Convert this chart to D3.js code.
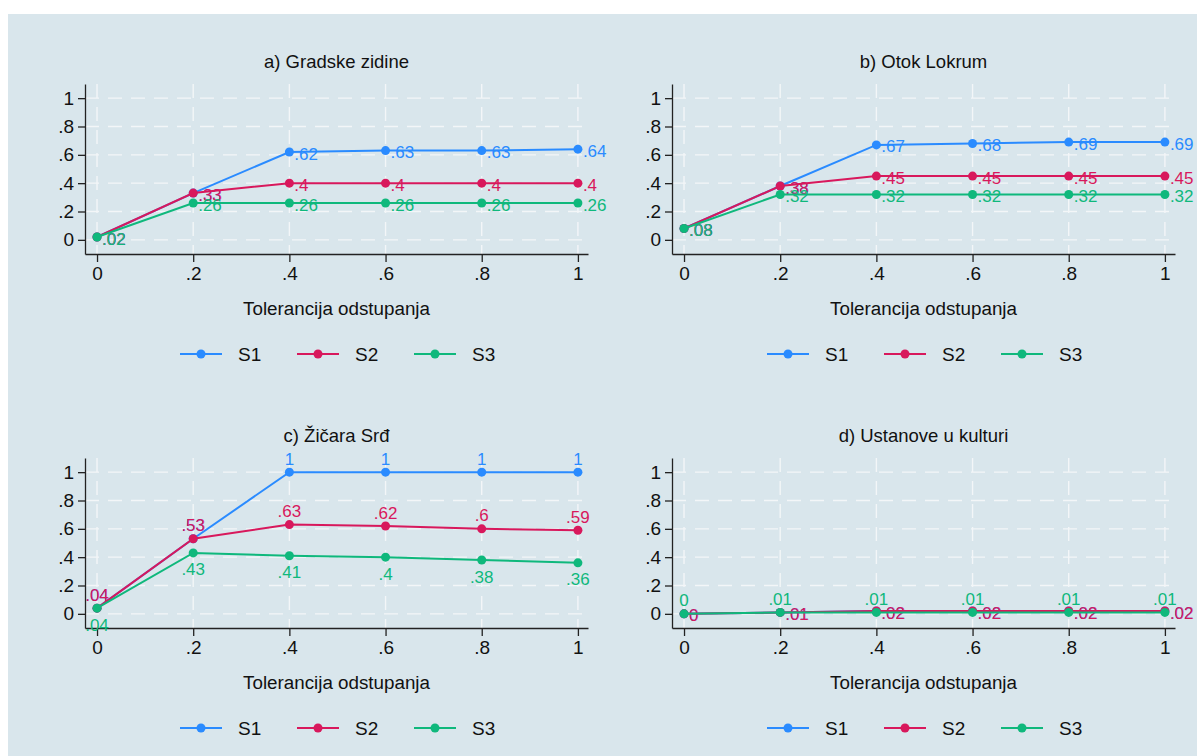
<!DOCTYPE html>
<html>
<head>
<meta charset="utf-8">
<script src="https://cdn.jsdelivr.net/npm/d3@7"></script>
<style>
  body { margin: 0; background: #ffffff; }
  text { font-family: "Liberation Sans", Arial, Helvetica, sans-serif; }
</style>
</head>
<body>
<div id="chart"></div>
<script>
'use strict';

// data
const tolerance = [0, .2, .4, .6, .8, 1];
const yTicks = [0, .2, .4, .6, .8, 1];
const seriesNames = ["S1", "S2", "S3"];
const panelTitles = ["a) Gradske zidine", "b) Otok Lokrum", "c) Žičara Srđ", "d) Ustanove u kulturi"];
const xTitle = "Tolerancija odstupanja";

const zidineS1 = [.02, .33, .62, .63, .63, .64];
const zidineS2 = [.02, .33, .4, .4, .4, .4];
const zidineS3 = [.02, .26, .26, .26, .26, .26];

const lokrumS1 = [.08, .38, .67, .68, .69, .69];
const lokrumS2 = [.08, .38, .45, .45, .45, .45];
const lokrumS3 = [.08, .32, .32, .32, .32, .32];

const zicaraS1 = [.04, .53, 1, 1, 1, 1];
const zicaraS2 = [.04, .53, .63, .62, .6, .59];
const zicaraS3 = [.04, .43, .41, .4, .38, .36];

const ustanoveS1 = [0, .01, .02, .02, .02, .02];
const ustanoveS2 = [0, .01, .02, .02, .02, .02];
const ustanoveS3 = [0, .01, .01, .01, .01, .01];

const colors = ["#2a8bff", "#d8185c", "#0fb87c"];

const msm = {
  width: 1197,
  height: 756,
  plotWidth: 503,
  plotHeight: 170,
  colStep: 587,
  rowStep: 374
};

// label positions: 3 = right, 12 = above, 6 = below
const panels = [
  { title: panelTitles[0], series: [zidineS1, zidineS2, zidineS3], pos: [3, 3, 3] },
  { title: panelTitles[1], series: [lokrumS1, lokrumS2, lokrumS3], pos: [3, 3, 3] },
  { title: panelTitles[2], series: [zicaraS1, zicaraS2, zicaraS3], pos: [12, 12, 6] },
  { title: panelTitles[3], series: [ustanoveS1, ustanoveS2, ustanoveS3], pos: [3, 3, 12] }
];

function fmt(v) {
  if (v === 0) return "0";
  if (v === 1) return "1";
  return String(+v.toFixed(2)).replace(/^0\./, ".");
}

let svg = d3.select('#chart')
  .append('svg')
  .attr('width', msm.width)
  .attr('height', msm.height);

svg.append('rect')
  .attr('x', 8)
  .attr('y', 14)
  .attr('width', msm.width - 8)
  .attr('height', msm.height - 14)
  .attr('fill', '#d9e6ec');

panels.forEach((p, i) => {
  let left = 85 + (i % 2) * msm.colStep;
  let top = 84 + Math.floor(i / 2) * msm.rowStep;
  drawPanel(p, left, top);
});

function drawPanel(p, left, top) {
  let g = svg.append('g');
  let right = left + msm.plotWidth;
  let bottom = top + msm.plotHeight;

  let xScale = d3.scaleLinear()
    .domain([-0.025, 1.021])
    .range([left, right]);
  let yScale = d3.scaleLinear()
    .domain([-0.1, 1.1])
    .range([bottom, top]);

  // grid
  g.selectAll('.hgrid')
    .data(yTicks)
    .enter()
    .append('line')
      .attr('x1', left)
      .attr('x2', right)
      .attr('y1', (d) => yScale(d))
      .attr('y2', (d) => yScale(d))
      .attr('stroke', '#f3f6f8')
      .attr('stroke-width', 1.4)
      .attr('stroke-dasharray', '14,9');
  g.selectAll('.vgrid')
    .data(tolerance)
    .enter()
    .append('line')
      .attr('x1', (d) => xScale(d))
      .attr('x2', (d) => xScale(d))
      .attr('y1', top)
      .attr('y2', bottom)
      .attr('stroke', '#f3f6f8')
      .attr('stroke-width', 1.4)
      .attr('stroke-dasharray', '14,9');

  // axes
  let yAxis = d3.axisLeft(yScale)
    .tickValues(yTicks)
    .tickFormat(fmt)
    .tickSize(7)
    .tickSizeOuter(0)
    .tickPadding(4);
  let ya = g.append('g')
    .attr('transform', 'translate(' + left + ',0)')
    .call(yAxis);

  let xAxis = d3.axisBottom(xScale)
    .tickValues(tolerance)
    .tickFormat(fmt)
    .tickSize(8)
    .tickSizeOuter(0)
    .tickPadding(5);
  let xa = g.append('g')
    .attr('transform', 'translate(0,' + bottom + ')')
    .call(xAxis);

  [ya, xa].forEach((a) => {
    a.selectAll('path, line').attr('stroke', '#222').attr('stroke-width', 1.3);
    a.selectAll('text').attr('fill', '#111').style('font-size', '19px');
  });

  // title and axis title
  g.append('text')
    .attr('x', (left + right) / 2)
    .attr('y', top - 16)
    .attr('text-anchor', 'middle')
    .attr('fill', '#111')
    .style('font-size', '18.5px')
    .text(p.title);

  g.append('text')
    .attr('x', (left + right) / 2)
    .attr('y', bottom + 61)
    .attr('text-anchor', 'middle')
    .attr('fill', '#111')
    .style('font-size', '18.8px')
    .text(xTitle);

  // series
  let line = d3.line()
    .x((d, j) => xScale(tolerance[j]))
    .y((d) => yScale(d));

  p.series.forEach((vals, s) => {
    g.append('path')
      .datum(vals)
      .attr('fill', 'none')
      .attr('stroke', colors[s])
      .attr('stroke-width', 2)
      .attr('d', line);

    g.selectAll('.dot' + s)
      .data(vals)
      .enter()
      .append('circle')
        .attr('cx', (d, j) => xScale(tolerance[j]))
        .attr('cy', (d) => yScale(d))
        .attr('r', 4.5)
        .attr('fill', colors[s]);

    let pos = p.pos[s];
    g.selectAll('.lab' + s)
      .data(vals)
      .enter()
      .append('text')
        .attr('x', (d, j) => xScale(tolerance[j]) + (pos === 3 ? 5 : 0))
        .attr('y', (d) => yScale(d) + (pos === 3 ? 2 : pos === 12 ? -13 : 17))
        .attr('text-anchor', pos === 3 ? 'start' : 'middle')
        .attr('dominant-baseline', 'central')
        .attr('fill', colors[s])
        .style('font-size', '17px')
        .text(fmt);
  });

  // legend
  let cx = (left + right) / 2;
  let ly = bottom + 100;
  seriesNames.forEach((name, s) => {
    let x0 = cx - 156.5 + s * 117;
    g.append('line')
      .attr('x1', x0)
      .attr('x2', x0 + 42)
      .attr('y1', ly)
      .attr('y2', ly)
      .attr('stroke', colors[s])
      .attr('stroke-width', 2);
    g.append('circle')
      .attr('cx', x0 + 21)
      .attr('cy', ly)
      .attr('r', 4.5)
      .attr('fill', colors[s]);
    g.append('text')
      .attr('x', x0 + 58)
      .attr('y', ly)
      .attr('dominant-baseline', 'central')
      .attr('fill', '#111')
      .style('font-size', '19px')
      .text(name);
  });
}
</script>
</body>
</html>
